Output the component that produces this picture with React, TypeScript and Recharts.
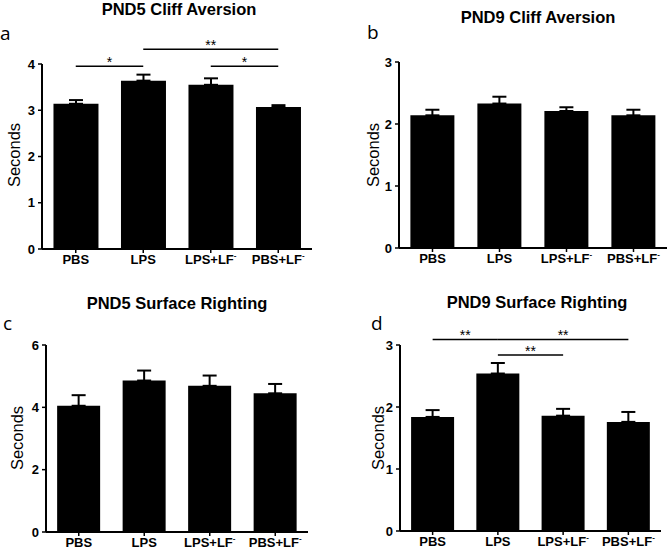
import { BarChart, Bar, XAxis, YAxis, ErrorBar, ReferenceLine } from "recharts";

// ---- data ----
const groups = ["PBS", "LPS", "LPS+LF⁻", "PBS+LF⁻"];

const pnd5CliffMean = [3.14, 3.64, 3.55, 3.07];
const pnd5CliffSem = [0.08, 0.13, 0.14, 0.04];
const pnd9CliffMean = [2.14, 2.33, 2.21, 2.14];
const pnd9CliffSem = [0.09, 0.11, 0.06, 0.09];
const pnd5RightingMean = [4.05, 4.86, 4.69, 4.45];
const pnd5RightingSem = [0.34, 0.32, 0.33, 0.3];
const pnd9RightingMean = [1.84, 2.54, 1.86, 1.76];
const pnd9RightingSem = [0.11, 0.17, 0.11, 0.16];

const pnd5CliffTicks = [0, 1, 2, 3, 4];
const pnd9CliffTicks = [0, 1, 2, 3];
const pnd5RightingTicks = [0, 2, 4, 6];
const pnd9RightingTicks = [0, 1, 2, 3];

const pnd5CliffSig = [
  { from: "PBS", to: "LPS", y: 3.95, mark: "*" },
  { from: "LPS", to: "PBS+LF⁻", y: 4.32, mark: "**" },
  { from: "LPS+LF⁻", to: "PBS+LF⁻", y: 3.95, mark: "*" },
];
const pnd9RightingSig = [
  { from: "PBS", to: "LPS", y: 3.09, mark: "**" },
  { from: "LPS", to: "PBS+LF⁻", y: 3.09, mark: "**" },
  { from: "LPS", to: "LPS+LF⁻", y: 2.84, mark: "**" },
];

const panelTitles = ["PND5 Cliff Aversion", "PND9 Cliff Aversion", "PND5 Surface Righting", "PND9 Surface Righting"];
const panelLetters = ["a", "b", "c", "d"];

type Sig = { from: string; to: string; y: number; mark: string };

const rows = (mean: number[], sem: number[]) =>
  groups.map((g, i) => ({ group: g, mean: mean[i], err: [0, sem[i]] }));

const FONT = '"Liberation Sans", Arial, Helvetica, sans-serif';
const Y_W = 30;
const X_H = 20;

// page-pixel layout of each panel: chart box and plot rectangle
const layout = [
  { box: [0, 0], plot: { l: 42, r: 312, t: 64, b: 249 }, title: [179, 15], letter: [0, 40], ylab: [14, 155] },
  { box: [336, 0], plot: { l: 399, r: 667, t: 62, b: 248 }, title: [538, 23], letter: [367, 39], ylab: [373, 155] },
  { box: [0, 276], plot: { l: 46, r: 308, t: 345, b: 532 }, title: [177, 309], letter: [3, 330], ylab: [17, 438] },
  { box: [336, 276], plot: { l: 400, r: 661, t: 345, b: 531 }, title: [537, 308], letter: [371, 330], ylab: [378, 438] },
];

const panels = [
  { data: rows(pnd5CliffMean, pnd5CliffSem), ticks: pnd5CliffTicks, sig: pnd5CliffSig },
  { data: rows(pnd9CliffMean, pnd9CliffSem), ticks: pnd9CliffTicks, sig: [] as Sig[] },
  { data: rows(pnd5RightingMean, pnd5RightingSem), ticks: pnd5RightingTicks, sig: [] as Sig[] },
  { data: rows(pnd9RightingMean, pnd9RightingSem), ticks: pnd9RightingTicks, sig: pnd9RightingSig },
];

function GroupTick({ x, y, payload }: any) {
  const label = String(payload.value);
  const sup = label.endsWith("⁻");
  const base = sup ? label.slice(0, -1) : label;
  return (
    <text x={x} y={y} dy={9} textAnchor="middle" fontFamily={FONT} fontSize={13} fontWeight="bold" fill="#000">
      {base}
      {sup && (
        <tspan fontSize={8} dy={-6}>
          -
        </tspan>
      )}
    </text>
  );
}

function SigShape({ x1, y1, x2, y2, mark }: any) {
  return (
    <g>
      <line x1={x1} y1={y1} x2={x2} y2={y2} stroke="#000" strokeWidth={1.5} />
      <text x={(x1 + x2) / 2} y={y1 + 1} textAnchor="middle" fontFamily={FONT} fontSize={14} fill="#000">
        {mark}
      </text>
    </g>
  );
}

function Panel({ index }: { index: number }) {
  const { data, ticks, sig } = panels[index];
  const { box, plot } = layout[index];
  const w = 336;
  const h = 276;
  const margin = {
    left: plot.l - box[0] - Y_W,
    right: box[0] + w - plot.r,
    top: plot.t - box[1],
    bottom: box[1] + h - plot.b - X_H,
  };
  return (
    <div style={{ position: "absolute", left: box[0], top: box[1] }}>
      <BarChart width={w} height={h} data={data} margin={margin} barCategoryGap="17%">
        <XAxis
          dataKey="group"
          height={X_H}
          axisLine={{ stroke: "#000", strokeWidth: 2 }}
          tickLine={{ stroke: "#000", strokeWidth: 1.5 }}
          tickSize={4}
          tickMargin={2}
          tick={<GroupTick />}
          interval={0}
        />
        <YAxis
          width={Y_W}
          domain={[0, ticks[ticks.length - 1]]}
          ticks={ticks}
          axisLine={{ stroke: "#000", strokeWidth: 2 }}
          tickLine={{ stroke: "#000", strokeWidth: 1.5 }}
          tickSize={4}
          tickMargin={3}
          tick={{ fill: "#000", fontFamily: FONT, fontSize: 13, fontWeight: "bold" }}
        />
        <Bar dataKey="mean" fill="#000" isAnimationActive={false}>
          <ErrorBar dataKey="err" width={7} stroke="#000" strokeWidth={2} direction="y" />
        </Bar>
        {sig.map((s, i) => (
          <ReferenceLine
            key={i}
            segment={[
              { x: s.from, y: s.y },
              { x: s.to, y: s.y },
            ]}
            ifOverflow="visible"
            shape={(p: any) => <SigShape x1={p.x1} y1={p.y1} x2={p.x2} y2={p.y2} mark={s.mark} />}
          />
        ))}
      </BarChart>
    </div>
  );
}

export default function App() {
  return (
    <div style={{ position: "absolute", left: 0, top: 0, width: 672, height: 552, background: "#fff" }}>
      {panels.map((_, i) => (
        <Panel key={i} index={i} />
      ))}
      <svg width={672} height={552} style={{ position: "absolute", left: 0, top: 0, pointerEvents: "none" }}>
        {layout.map((l, i) => (
          <g key={i}>
            <text x={l.title[0]} y={l.title[1]} textAnchor="middle" fontFamily={FONT} fontSize={16.5} fontWeight="bold">
              {panelTitles[i]}
            </text>
            <text x={l.letter[0]} y={l.letter[1]} fontFamily='"Open Sans", sans-serif' fontSize={19}>
              {panelLetters[i]}
            </text>
            <text
              x={l.ylab[0]}
              y={l.ylab[1]}
              transform={`rotate(-90 ${l.ylab[0]} ${l.ylab[1]})`}
              textAnchor="middle"
              dominantBaseline="central"
              fontFamily={FONT}
              fontSize={16.5}
            >
              Seconds
            </text>
          </g>
        ))}
      </svg>
    </div>
  );
}
